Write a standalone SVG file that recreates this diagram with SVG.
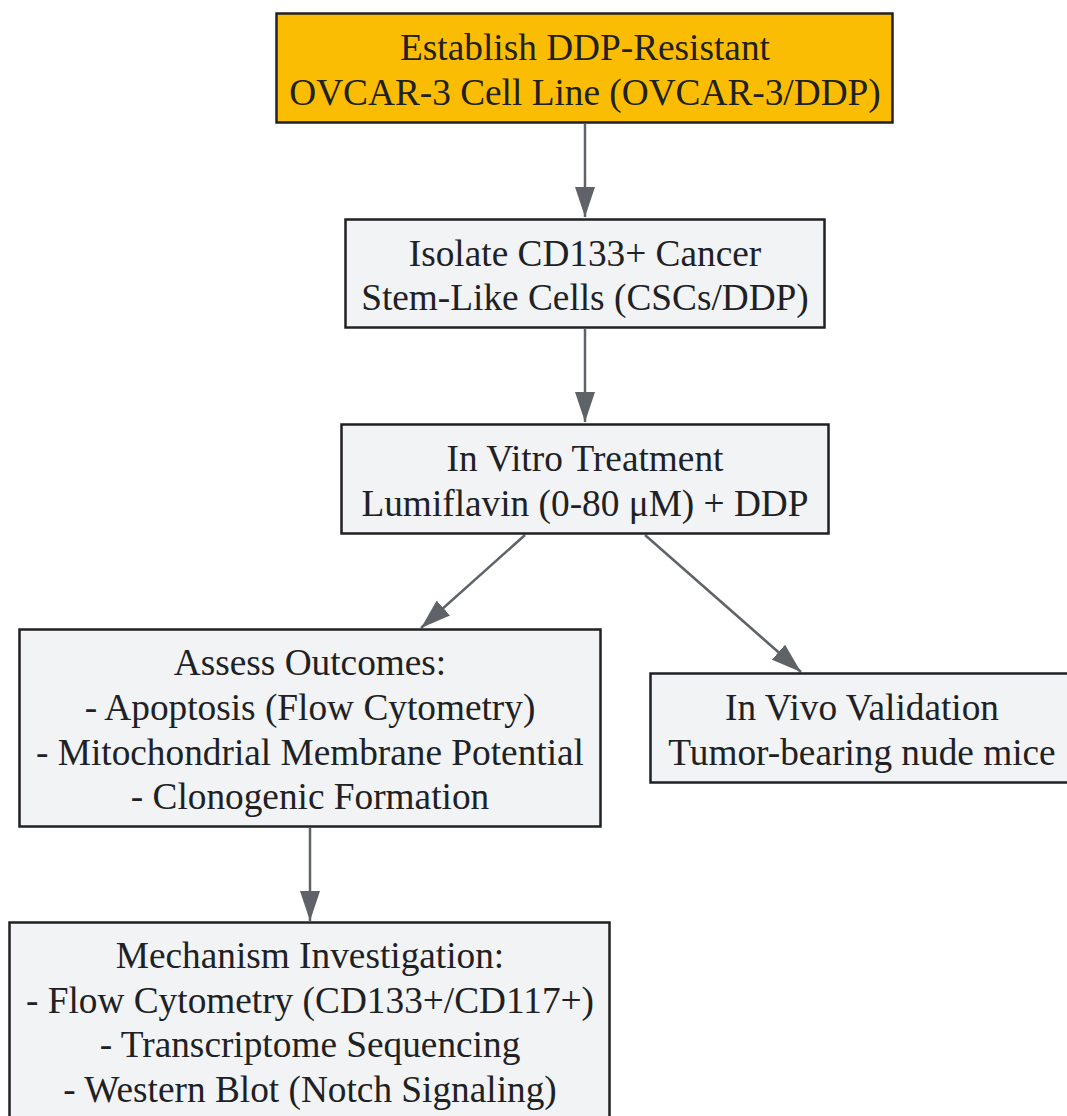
<svg xmlns="http://www.w3.org/2000/svg" width="1067" height="1116" viewBox="0 0 1067 1116">
<style>
.box{fill:#f1f3f4;stroke:#202124;stroke-width:2.5}
.start{fill:#fbbc04;stroke:#202124;stroke-width:2.5}
.t{font-family:"Liberation Serif","Times New Roman",serif;font-size:37.3px;fill:#202124;text-anchor:middle}
.edge{stroke:#5f6368;stroke-width:2.5;fill:none}
</style>
<defs>
<marker id="ah" viewBox="0 0 12 8" refX="12" refY="4" markerUnits="userSpaceOnUse" markerWidth="30" markerHeight="20" orient="auto">
<path d="M0,0 L12,4 L0,8 Z" fill="#5f6368"/>
</marker>
</defs>
<rect width="1067" height="1116" fill="#ffffff"/>
<g id="connectors">
<line class="edge" x1="585" y1="124" x2="585" y2="217" marker-end="url(#ah)"/>
<line class="edge" x1="585" y1="329" x2="585" y2="422" marker-end="url(#ah)"/>
<line class="edge" x1="525" y1="535" x2="421" y2="628" marker-end="url(#ah)"/>
<line class="edge" x1="645" y1="535" x2="801" y2="672" marker-end="url(#ah)"/>
<line class="edge" x1="310" y1="828" x2="310" y2="921" marker-end="url(#ah)"/>
</g>
<g id="n1">
<rect class="start" x="276.5" y="13.5" width="616" height="109"/>
<text class="t" x="585" y="60">Establish DDP-Resistant</text>
<text class="t" x="585" y="104.5">OVCAR-3 Cell Line (OVCAR-3/DDP)</text>
</g>
<g id="n2">
<rect class="box" x="345.5" y="219.5" width="479" height="108"/>
<text class="t" x="585" y="265.5">Isolate CD133+ Cancer</text>
<text class="t" x="585" y="310">Stem-Like Cells (CSCs/DDP)</text>
</g>
<g id="n3">
<rect class="box" x="341.5" y="424.5" width="487" height="109"/>
<text class="t" x="585" y="471">In Vitro Treatment</text>
<text class="t" x="585" y="516">Lumiflavin (0-80 μM) + DDP</text>
</g>
<g id="n4">
<rect class="box" x="19.5" y="629.5" width="581" height="197"/>
<text class="t" x="310" y="675">Assess Outcomes:</text>
<text class="t" x="310" y="720">- Apoptosis (Flow Cytometry)</text>
<text class="t" x="310" y="764.5">- Mitochondrial Membrane Potential</text>
<text class="t" x="310" y="809">- Clonogenic Formation</text>
</g>
<g id="n5">
<rect class="box" x="650.5" y="673.5" width="424" height="109"/>
<text class="t" x="862" y="720">In Vivo Validation</text>
<text class="t" x="862" y="765">Tumor-bearing nude mice</text>
</g>
<g id="n6">
<rect class="box" x="9.5" y="922.5" width="600" height="200"/>
<text class="t" x="310" y="968">Mechanism Investigation:</text>
<text class="t" x="310" y="1012.5">- Flow Cytometry (CD133+/CD117+)</text>
<text class="t" x="310" y="1057">- Transcriptome Sequencing</text>
<text class="t" x="310" y="1102">- Western Blot (Notch Signaling)</text>
</g>
</svg>
